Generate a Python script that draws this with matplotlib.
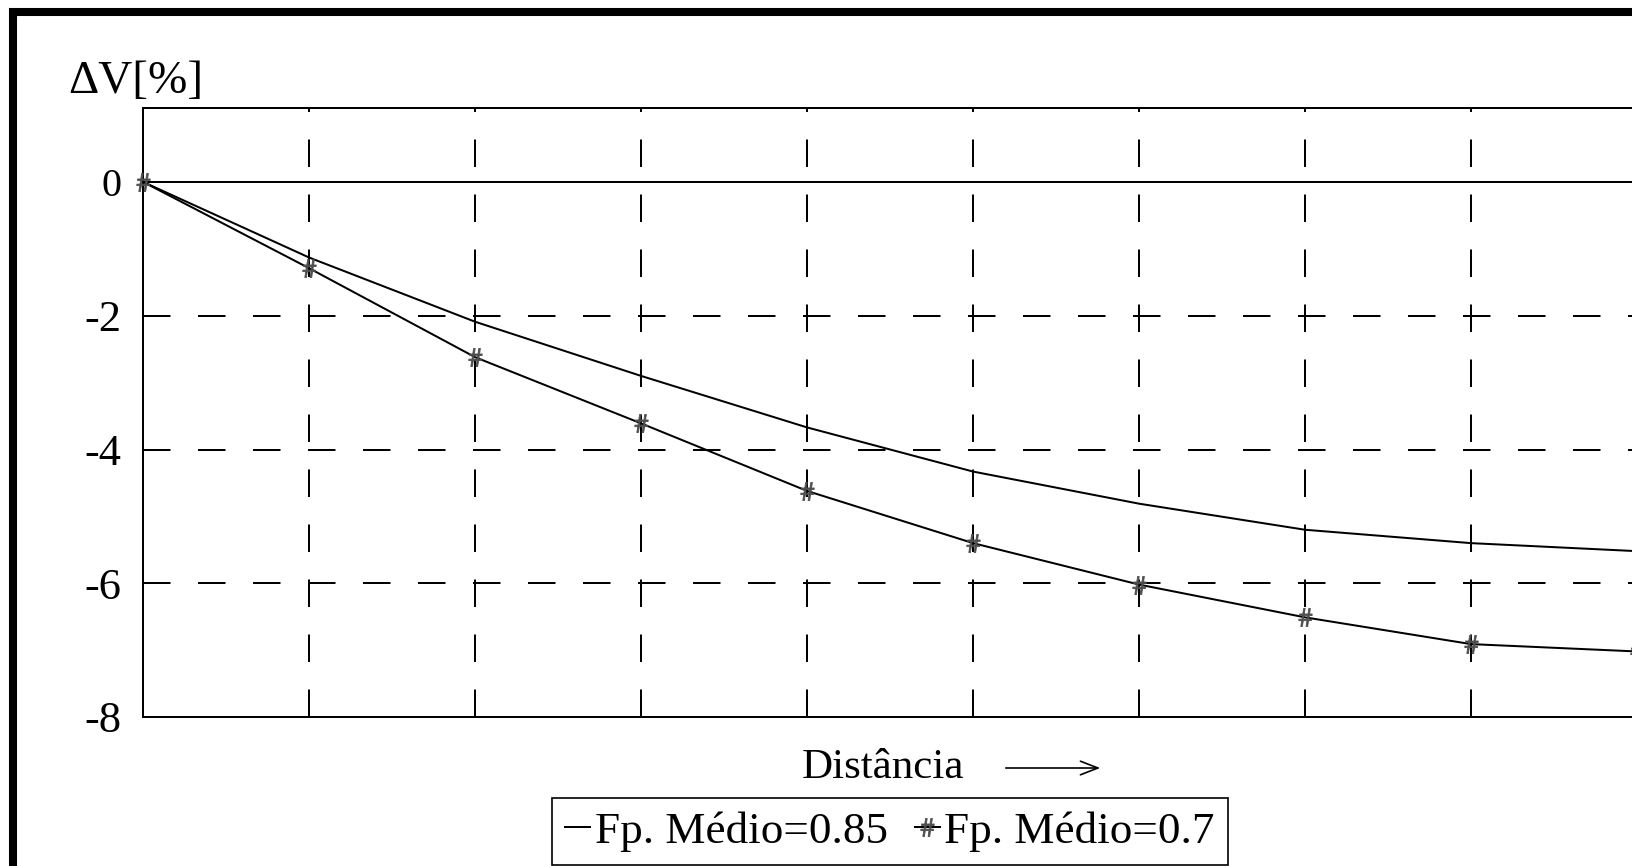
import numpy as np
import matplotlib
matplotlib.use("Agg")
import matplotlib.pyplot as plt
from matplotlib.patches import Rectangle

plt.rcParams['font.family'] = ['Liberation Serif', 'DejaVu Serif']
plt.rcParams['mathtext.fontset'] = 'stix'

# dados
distancia = [0, 1, 2, 3, 4, 5, 6, 7, 8, 9]
dv_085 = [0, -1.13, -2.09, -2.90, -3.67, -4.33, -4.81, -5.20, -5.40, -5.52]
dv_070 = [0, -1.29, -2.62, -3.61, -4.62, -5.40, -6.02, -6.51, -6.91, -7.02]
serie_labels = ['Fp. Médio=0.85', 'Fp. Médio=0.7']
ytick_vals = [0, -2, -4, -6, -8]
ytick_labels = ['0', '-2', '-4', '-6', '-8']

W, H = 1632, 866
fig = plt.figure(figsize=(W / 100, H / 100), dpi=100)

# eixo vai um pouco alem da borda direita (figura original cortada)
x0, x1 = 143.3, 1637.0
y_top, y_bot = 108.0, 717.0
ax = fig.add_axes([x0 / W, (H - y_bot) / H, (x1 - x0) / W, (y_bot - y_top) / H])

lw = 1.44
dash = (0, (13.75, 13.75))

ax.set_xlim(0, 9)
ax.set_ylim(-8, 1.107)
ax.set_xticks(range(1, 9))
ax.set_xticklabels([])
ax.set_yticks(ytick_vals)
ax.set_yticklabels(ytick_labels, fontsize=32)
ax.get_yticklabels()[0].set_fontsize(29)
ax.tick_params(length=0, pad=16)
ax.grid(True, color='black', linestyle=dash, linewidth=lw)
ax.axhline(0, color='black', linewidth=lw, zorder=2)
for s in ax.spines.values():
    s.set_linewidth(lw)

ax.plot(distancia, dv_085, color='black', linewidth=lw, label=serie_labels[0], zorder=3)
ax.plot(distancia, dv_070, color='black', linewidth=lw, marker=r'$\#$', markersize=13,
        markeredgewidth=0.6, markerfacecolor='0.3', markeredgecolor='0.3',
        label=serie_labels[1], zorder=3, clip_on=False)

fig.text(68 / W, (H - 93) / H, 'ΔV[%]', fontsize=34, ha='left', va='baseline')
fig.text(802 / W, (H - 778) / H, 'Distância', fontsize=31, ha='left', va='baseline')
fig.add_artist(matplotlib.patches.FancyArrowPatch(
    (1003 / W, (H - 768) / H), (1103 / W, (H - 768) / H), transform=fig.transFigure,
    arrowstyle='->,head_length=0.9,head_width=0.35', linewidth=1.2, color='black',
    mutation_scale=14))

leg = fig.legend(loc='center', bbox_to_anchor=(890 / W, (H - 831.5) / H), ncol=2,
                 fontsize=32.5, frameon=True, fancybox=False, edgecolor='black',
                 framealpha=1, handlelength=0.55, handletextpad=0.1, columnspacing=0.6,
                 borderpad=0.3, borderaxespad=0, numpoints=1)
leg.get_frame().set_linewidth(1.2)

# moldura externa grossa
fig.add_artist(Rectangle((13 / W, -0.2), 1.5, (H - 11.5) / H + 0.2, transform=fig.transFigure,
                         fill=False, edgecolor='black', linewidth=5.8, clip_on=False))

fig.savefig('out.png', dpi=100)
